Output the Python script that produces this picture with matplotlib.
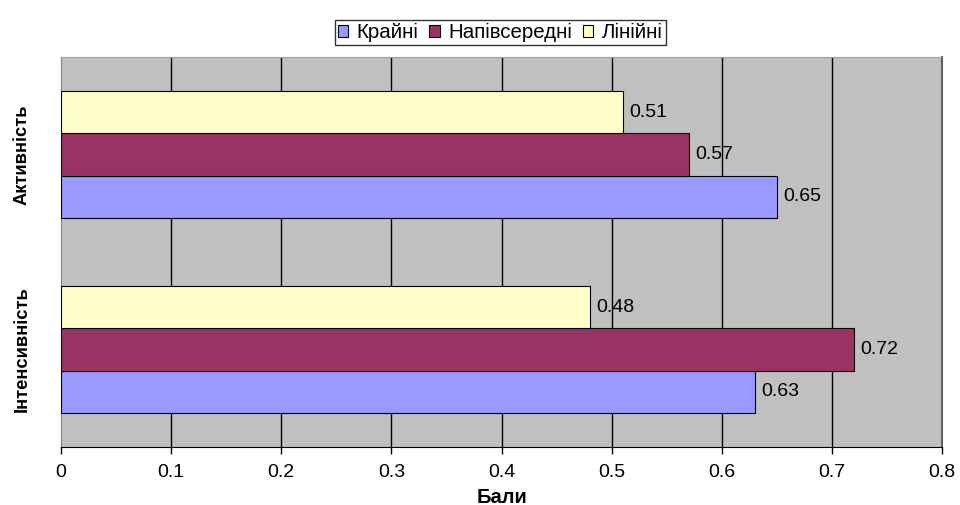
import matplotlib
matplotlib.use("Agg")
import matplotlib.pyplot as plt
from matplotlib.patches import Patch
from matplotlib import font_manager

categories = ["Інтенсивність", "Активність"]
series_names = ["Крайні", "Напівсередні", "Лінійні"]
kraini = [0.63, 0.65]
napivseredni = [0.72, 0.57]
liniini = [0.48, 0.51]
x_ticks = [0, 0.1, 0.2, 0.3, 0.4, 0.5, 0.6, 0.7, 0.8]
x_label = "Бали"

colors = ["#9999FF", "#993366", "#FFFFCC"]

names = {f.name for f in font_manager.fontManager.ttflist}
base = "Liberation Sans" if "Liberation Sans" in names else "DejaVu Sans"
narrow = "Liberation Sans Narrow" if "Liberation Sans Narrow" in names else base
plt.rcParams['font.family'] = [base, 'DejaVu Sans']

fig = plt.figure(figsize=(9.6, 5.05), dpi=100)
ax = fig.add_axes([61/960, 1-447/505, (942-61)/960, (447-57)/505])
ax.set_facecolor("#C0C0C0")

h = 0.216
ys = list(range(len(categories)))
offsets = [-h, 0, h]
all_series = [kraini, napivseredni, liniini]
for vals, off, col in zip(all_series, offsets, colors):
    pos = [y + off for y in ys]
    ax.barh(pos, vals, height=h, color=col, edgecolor="black", linewidth=0.8, zorder=3)
    for p, v in zip(pos, vals):
        ax.text(v + 0.006, p, f"{v:.2f}", va="center", ha="left", fontsize=14, zorder=4)

ax.set_xlim(0, 0.8)
ax.set_ylim(-0.5, 1.5)
ax.set_xticks(x_ticks)
ax.set_xticklabels([f"{t:g}" for t in x_ticks], fontsize=14)
for t in x_ticks[1:-1]:
    ax.axvline(t, color="black", linewidth=1.0, zorder=1)

ax.set_yticks(ys)
ax.set_yticklabels(categories, rotation=90, va="center", fontsize=13.2,
                   fontweight="bold", family=[narrow, 'DejaVu Sans'])
ax.tick_params(axis="y", length=0, pad=22)
ax.tick_params(axis="x", length=5, width=1, direction="out", pad=7, color="black")

ax.spines["top"].set_color("#A0A0A0")
ax.spines["right"].set_color("#606060")
ax.spines["right"].set_linewidth(1.5)
ax.spines["bottom"].set_color("black")
ax.spines["left"].set_color("#808080")

ax.set_xlabel(x_label, fontsize=14.5, fontweight="bold", labelpad=5)

handles = [Patch(facecolor=c, edgecolor="black", linewidth=0.8) for c in colors]
leg = fig.legend(handles, series_names, loc="center", bbox_to_anchor=(0.521, 0.935),
                 ncol=3, frameon=True, fancybox=False, fontsize=14.8,
                 handlelength=0.5, handleheight=0.5, handletextpad=0.4,
                 columnspacing=0.55, borderpad=0.15)
leg.get_frame().set_edgecolor("black")
leg.get_frame().set_linewidth(1.0)

fig.savefig("out.png", dpi=100, facecolor="white")
